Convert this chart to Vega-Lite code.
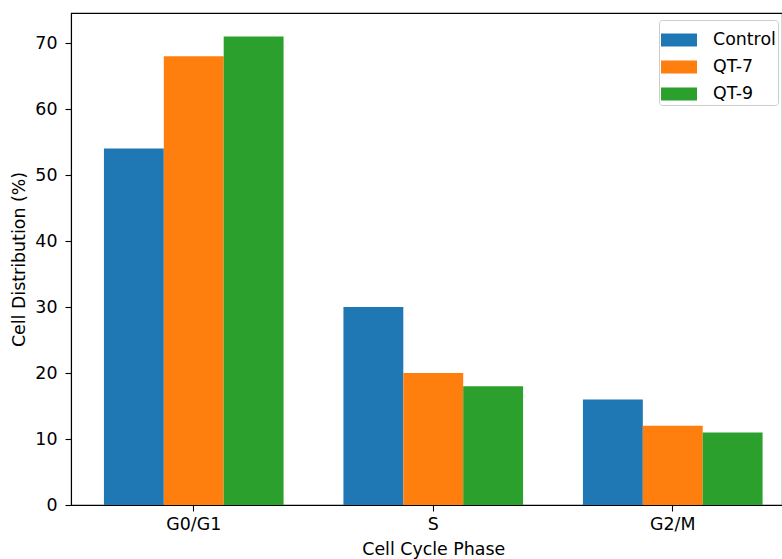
{
  "$schema": "https://vega.github.io/schema/vega-lite/v6.json",
  "width": 711,
  "height": 492,
  "autosize": {"type": "none"},
  "padding": {"left": 71, "top": 13, "right": 0, "bottom": 54},
  "background": "#ffffff",
  "config": {
    "font": "DejaVu Sans",
    "view": {"stroke": "#000000", "strokeWidth": 1.1},
    "axis": {
      "grid": false,
      "domainColor": "#000000",
      "domainWidth": 1.1,
      "tickColor": "#000000",
      "tickWidth": 1.1,
      "tickSize": 6,
      "labelFont": "DejaVu Sans",
      "labelFontSize": 17.4,
      "labelColor": "#000000",
      "titleFont": "DejaVu Sans",
      "titleFontSize": 17.4,
      "titleFontWeight": "normal",
      "titleColor": "#000000"
    }
  },
  "data": {
    "values": [
      {"phase": "G0/G1", "group": "Control", "value": 54},
      {"phase": "G0/G1", "group": "QT-7", "value": 68},
      {"phase": "G0/G1", "group": "QT-9", "value": 71},
      {"phase": "S", "group": "Control", "value": 30},
      {"phase": "S", "group": "QT-7", "value": 20},
      {"phase": "S", "group": "QT-9", "value": 18},
      {"phase": "G2/M", "group": "Control", "value": 16},
      {"phase": "G2/M", "group": "QT-7", "value": 12},
      {"phase": "G2/M", "group": "QT-9", "value": 11}
    ]
  },
  "mark": {"type": "bar"},
  "encoding": {
    "x": {
      "field": "phase",
      "type": "nominal",
      "sort": ["G0/G1", "S", "G2/M"],
      "scale": {"range": [0, 724.5], "paddingInner": 0, "paddingOuter": 0.0125},
      "axis": {"title": "Cell Cycle Phase", "labelAngle": 0, "labelPadding": 4, "titlePadding": 8}
    },
    "xOffset": {
      "field": "group",
      "type": "nominal",
      "sort": ["Control", "QT-7", "QT-9"],
      "scale": {"paddingInner": 0, "paddingOuter": 0.5}
    },
    "y": {
      "field": "value",
      "type": "quantitative",
      "scale": {"domain": [0, 74.55], "nice": false, "zero": true},
      "axis": {"title": "Cell Distribution (%)", "values": [0, 10, 20, 30, 40, 50, 60, 70], "labelPadding": 8, "titlePadding": 6}
    },
    "color": {
      "field": "group",
      "type": "nominal",
      "sort": ["Control", "QT-7", "QT-9"],
      "scale": {"domain": ["Control", "QT-7", "QT-9"], "range": ["#1f77b4", "#ff7f0e", "#2ca02c"]},
      "legend": {
        "title": null,
        "orient": "none",
        "legendX": 588,
        "legendY": 7,
        "symbolType": "M-1,-0.36H1V0.36H-1Z",
        "symbolSize": 1296,
        "symbolStrokeWidth": 0,
        "symbolOpacity": 1,
        "labelFont": "DejaVu Sans",
        "labelFontSize": 17.4,
        "labelColor": "#000000",
        "labelOffset": 16,
        "rowPadding": -1,
        "padding": 2,
        "fillColor": "#ffffff",
        "strokeColor": "#cccccc",
        "cornerRadius": 3
      }
    }
  }
}
